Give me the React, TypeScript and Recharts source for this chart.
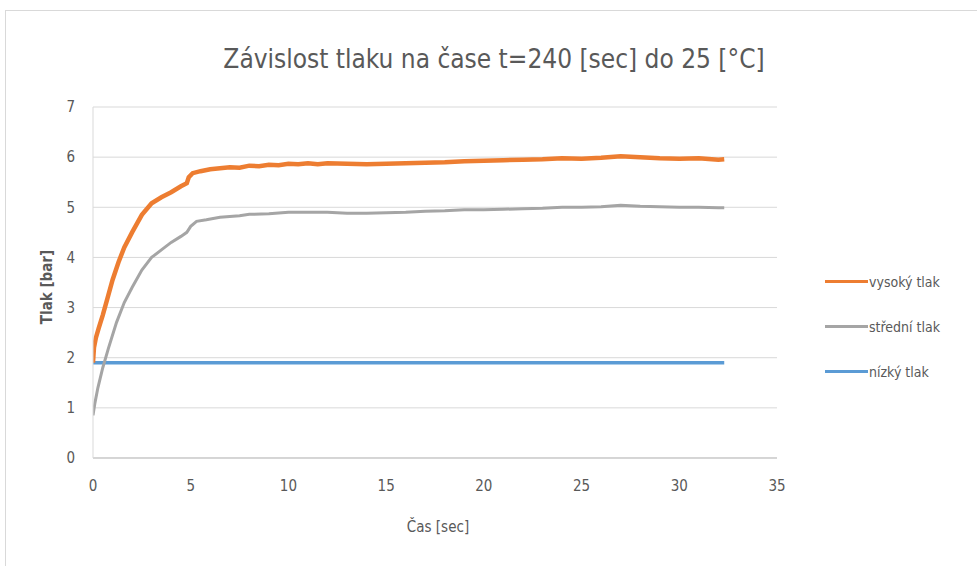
import React from "react";
import { LineChart, Line, XAxis, YAxis, CartesianGrid } from "recharts";

const xTicks = [0, 5, 10, 15, 20, 25, 30, 35];
const yTicks = [0, 1, 2, 3, 4, 5, 6, 7];

const highT = [0, 0.05, 0.15, 0.3, 0.5, 0.75, 1.0, 1.3, 1.6, 2.0, 2.5, 3.0, 3.5, 4.0, 4.5, 4.8, 4.9, 5.1, 5.5, 6, 6.5, 7, 7.5, 8, 8.5, 9, 9.5, 10, 10.5, 11, 11.5, 12, 13, 14, 15, 16, 17, 18, 19, 20, 21, 22, 23, 24, 25, 26, 27, 28, 29, 30, 31, 32, 32.3];
const highP = [1.9, 2.2, 2.4, 2.6, 2.85, 3.2, 3.55, 3.9, 4.2, 4.5, 4.85, 5.08, 5.2, 5.3, 5.42, 5.48, 5.6, 5.68, 5.72, 5.76, 5.78, 5.8, 5.79, 5.83, 5.82, 5.85, 5.84, 5.87, 5.86, 5.88, 5.86, 5.88, 5.87, 5.86, 5.87, 5.88, 5.89, 5.9, 5.92, 5.93, 5.94, 5.95, 5.96, 5.98, 5.97, 5.99, 6.02, 6.0, 5.98, 5.97, 5.98, 5.95, 5.96];

const midT = [0, 0.1, 0.25, 0.5, 0.8, 1.2, 1.6, 2.0, 2.5, 3.0, 3.5, 4.0, 4.5, 4.8, 5.0, 5.3, 5.8, 6.5, 7.5, 8, 9, 10, 11, 12, 13, 14, 15, 16, 17, 18, 19, 20, 21, 22, 23, 24, 25, 26, 27, 28, 29, 30, 31, 32, 32.3];
const midP = [0.85, 1.1, 1.4, 1.8, 2.2, 2.7, 3.1, 3.4, 3.75, 4.0, 4.15, 4.3, 4.42, 4.5, 4.62, 4.72, 4.75, 4.8, 4.83, 4.86, 4.87, 4.9, 4.9, 4.9, 4.88, 4.88, 4.89, 4.9, 4.92, 4.93, 4.95, 4.95, 4.96, 4.97, 4.98, 5.0, 5.0, 5.01, 5.04, 5.02, 5.01, 5.0, 5.0, 4.99, 4.99];

const lowT = [0, 32.3];
const lowP = [1.9, 1.9];

const seriesNames = ["vysoký tlak", "střední tlak", "nízký tlak"];
const seriesColors = ["#ED7D31", "#A5A5A5", "#5B9BD5"];

const highData = highT.map((t, i) => ({ t, p: highP[i] }));
const midData = midT.map((t, i) => ({ t, p: midP[i] }));
const lowData = lowT.map((t, i) => ({ t, p: lowP[i] }));

const FONT = '"Liberation Sans Narrow", "DejaVu Sans Condensed", "Open Sans", sans-serif';

const LegendBox = () => (
  <div style={{ position: "absolute", left: 825, top: 259, width: 150, fontFamily: FONT, fontSize: 14, color: "#595959" }}>
    {seriesNames.map((n, i) => (
      <div key={n} style={{ display: "flex", alignItems: "center", height: 45 }}>
        <div style={{ width: 43, height: 3, background: seriesColors[i] }} />
        <span style={{ marginLeft: 1 }}>{n}</span>
      </div>
    ))}
  </div>
);

export default function App() {
  return (
    <div style={{ position: "absolute", left: 0, top: 0, width: 977, height: 566, background: "#fff", overflow: "hidden" }}>
      <div style={{ position: "absolute", left: 5, top: 10, width: 990, height: 570, border: "1px solid #d9d9d9" }} />
      <div style={{ position: "absolute", left: 0, width: 988, top: 44, textAlign: "center", fontFamily: FONT, fontSize: 26, color: "#595959" }}>
        Závislost tlaku na čase t=240 [sec] do 25 [°C]
      </div>
      <div style={{ position: "absolute", left: 0, width: 876, top: 518, textAlign: "center", fontFamily: FONT, fontSize: 15, color: "#595959" }}>
        Čas [sec]
      </div>
      <div style={{ position: "absolute", left: 47, top: 287, transform: "translate(-50%, -50%) rotate(-90deg)", whiteSpace: "nowrap", fontFamily: FONT, fontSize: 15, fontWeight: "bold", color: "#595959" }}>
        Tlak [bar]
      </div>
      <div style={{ position: "absolute", left: 0, top: 0 }}>
        <LineChart width={977} height={566} margin={{ top: 107, right: 200, bottom: 78, left: 33 }}>
          <CartesianGrid vertical={false} stroke="#d9d9d9" strokeWidth={1} />
          <XAxis
            type="number"
            dataKey="t"
            domain={[0, 35]}
            ticks={xTicks}
            allowDataOverflow
            height={30}
            tickLine={false}
            tickSize={0}
            tickMargin={22}
            stroke="#bfbfbf"
            tick={{ fill: "#595959", fontSize: 15, fontFamily: FONT }}
          />
          <YAxis
            type="number"
            domain={[0, 7]}
            ticks={yTicks}
            width={60}
            tickLine={false}
            tickSize={0}
            tickMargin={18}
            stroke="#d9d9d9"
            tick={{ fill: "#595959", fontSize: 15, fontFamily: FONT }}
          />
          <Line data={lowData} dataKey="p" name={seriesNames[2]} type="linear" stroke={seriesColors[2]} strokeWidth={3.5} dot={false} isAnimationActive={false} />
          <Line data={midData} dataKey="p" name={seriesNames[1]} type="linear" stroke={seriesColors[1]} strokeWidth={3} dot={false} isAnimationActive={false} />
          <Line data={highData} dataKey="p" name={seriesNames[0]} type="linear" stroke={seriesColors[0]} strokeWidth={4.5} dot={false} isAnimationActive={false} />
        </LineChart>
      </div>
      <LegendBox />
    </div>
  );
}
